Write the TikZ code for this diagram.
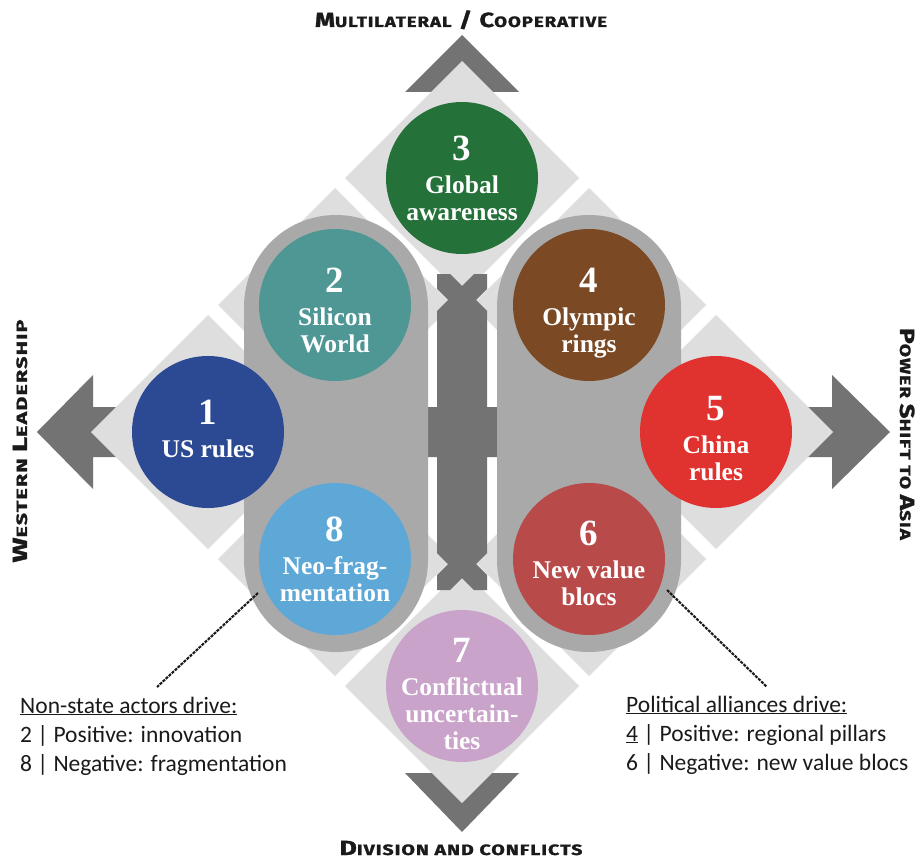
\documentclass[tikz,border=0pt]{standalone}
\usepackage{fontspec}
\setmainfont{Liberation Serif}
\newfontfamily\calibf{Carlito}
\newfontfamily\axisf{Fira Sans}[LetterSpace=5, FakeBold=1.2]
\definecolor{tilec}{HTML}{DEDEDE}
\definecolor{pillc}{HTML}{A9A9A9}
\definecolor{darkc}{HTML}{737373}
\definecolor{txtc}{HTML}{1A1A1A}
\definecolor{cA}{HTML}{2C4A94}
\definecolor{cB}{HTML}{4F9795}
\definecolor{cC}{HTML}{25713A}
\definecolor{cD}{HTML}{7B4A24}
\definecolor{cE}{HTML}{E0322F}
\definecolor{cF}{HTML}{B94A4A}
\definecolor{cG}{HTML}{C9A3C9}
\definecolor{cH}{HTML}{5EA8D8}
\newcommand\mysc[2]{{\fontsize{20.5}{20.5}\selectfont #1}{\fontsize{15}{15}\selectfont #2}}
\newcommand\numf{\fontsize{37}{37}\selectfont}
\newcommand\axw[2]{\resizebox{#1}{\height}{#2}}
\begin{document}
\begin{tikzpicture}[x=1pt,y=-1pt,
  circ/.style={circle,minimum size=152pt,inner sep=0pt},
  lab/.style={text=white,align=center,inner sep=0pt,
    font=\bfseries\fontsize{25.5}{27}\selectfont},
  arrowc/.style={fill=darkc},
  tilebox/.style={fill=tilec},
  pillbox/.style={fill=pillc,rounded corners=91.9pt},
  axislab/.style={font=\axisf\bfseries\fontsize{15}{15}\selectfont,text=txtc,inner sep=0pt,anchor=base},
  notes/.style={font=\calibf\fontsize{23.5}{29}\selectfont,text=txtc,anchor=base west,inner sep=0pt},
  leader/.style={line width=2.1pt,dash pattern=on 3pt off 1.1pt,draw=txtc}]
\useasboundingbox (0,0) rectangle (919,859);
\fill[white] (0,0) rectangle (919,859);
% block arrows
\fill[arrowc] (462,35) -- (519,92) -- (487,92) -- (487,150) -- (437,150) -- (437,92) -- (405,92) -- cycle;
\fill[arrowc] (37,432) -- (93,375) -- (93,407) -- (150,407) -- (150,457) -- (93,457) -- (93,489) -- cycle;
\fill[arrowc] (890,432) -- (832,375) -- (832,407) -- (775,407) -- (775,457) -- (832,457) -- (832,489) -- cycle;
\fill[arrowc] (462,832) -- (519,773) -- (487,773) -- (487,715) -- (437,715) -- (437,773) -- (405,773) -- cycle;
% tiles
\foreach \x/\y in {462/178, 335/305, 589/305, 208/432, 716/432, 335/559, 589/559, 462/686}
  \fill[tilebox] (\x-117,\y) -- (\x,\y-117) -- (\x+117,\y) -- (\x,\y+117) -- cycle;
% central cross bar
\fill[arrowc] (437,274) -- (450,274) -- (462,286) -- (474,274) -- (487,274)
  -- (487,289) -- (476,300) -- (487,311) -- (487,407) -- (498,407) -- (498,457) -- (487,457)
  -- (487,553) -- (476,564) -- (487,575) -- (487,590) -- (474,590) -- (462,578) -- (450,590)
  -- (437,590) -- (437,575) -- (448,564) -- (437,553) -- (437,457) -- (427,457) -- (427,407)
  -- (437,407) -- (437,311) -- (448,300) -- (437,289) -- cycle;
% pills
\fill[pillbox] (244,215) rectangle (428,652);
\fill[pillbox] (497,215) rectangle (681,652);
% circles
\node[circ,fill=cC] (n3) at (462,178) {};
\node[circ,fill=cB] (n2) at (335,305) {};
\node[circ,fill=cD] (n4) at (589,305) {};
\node[circ,fill=cA] (n1) at (208,432) {};
\node[circ,fill=cE] (n5) at (716,432) {};
\node[circ,fill=cH] (n8) at (335,559) {};
\node[circ,fill=cF] (n6) at (589,559) {};
\node[circ,fill=cG] (n7) at (462,686) {};
\node[lab] (l3) at (n3.center) {{\numf 3}\\[6pt]Global\\awareness};
\node[lab] (l2) at ([yshift=-5pt]n2.center) {{\numf 2}\\[6pt]Silicon\\World};
\node[lab] (l4) at ([yshift=-8pt]n4.center) {{\numf 4}\\[6pt]Olympic\\rings};
\node[lab] (l1) at ([yshift=3pt]n1.center) {{\numf 1}\\[6pt]US rules};
\node[lab] (l5) at ([yshift=-7pt]n5.center) {{\numf 5}\\[6pt]China\\rules};
\node[lab] (l8) at (n8.center) {{\numf 8}\\[6pt]Neo-frag-\\mentation};
\node[lab] (l6) at ([yshift=-4pt]n6.center) {{\numf 6}\\[6pt]New value\\blocs};
\node[lab] (l7) at ([yshift=-8pt]n7.center) {{\numf 7}\\[6pt]Conflictual\\uncertain-\\ties};
% axis labels
\node[axislab] (ltop) at (461,27) {\axw{292pt}{\mysc{M}{ULTILATERAL}{\fontsize{20.5}{20.5}\selectfont{} / }\mysc{C}{OOPERATIVE}}};
\node[axislab] (lbot) at (461,855) {\axw{243pt}{\mysc{D}{IVISION AND CONFLICTS}}};
\node[axislab,rotate=90] (lleft) at (27,441) {\axw{243pt}{\mysc{W}{ESTERN} \mysc{L}{EADERSHIP}}};
\node[axislab,rotate=-90] (lright) at (900,434) {\axw{212pt}{\mysc{P}{OWER} \mysc{S}{HIFT TO} \mysc{A}{SIA}}};
% notes
\node[notes] (na1) at (20,713) {\underline{Non-state actors drive:}};
\node[notes] (na2) at (20,742) {2 | Positive: innovation};
\node[notes] (na3) at (20,771) {8 | Negative: fragmentation};
\node[notes] (nb1) at (626,712) {\underline{Political alliances drive:}};
\node[notes] (nb2) at (626,741) {\underline{4} | Positive: regional pillars};
\node[notes] (nb3) at (626,770) {6 | Negative: new value blocs};
% leaders
\coordinate (p8) at (258,593);
\coordinate (t8) at (157,687);
\coordinate (p6) at (667,590);
\coordinate (t6) at (767,687);
\draw[leader] (p8) -- (t8);
\draw[leader] (p6) -- (t6);
\end{tikzpicture}
\end{document}
